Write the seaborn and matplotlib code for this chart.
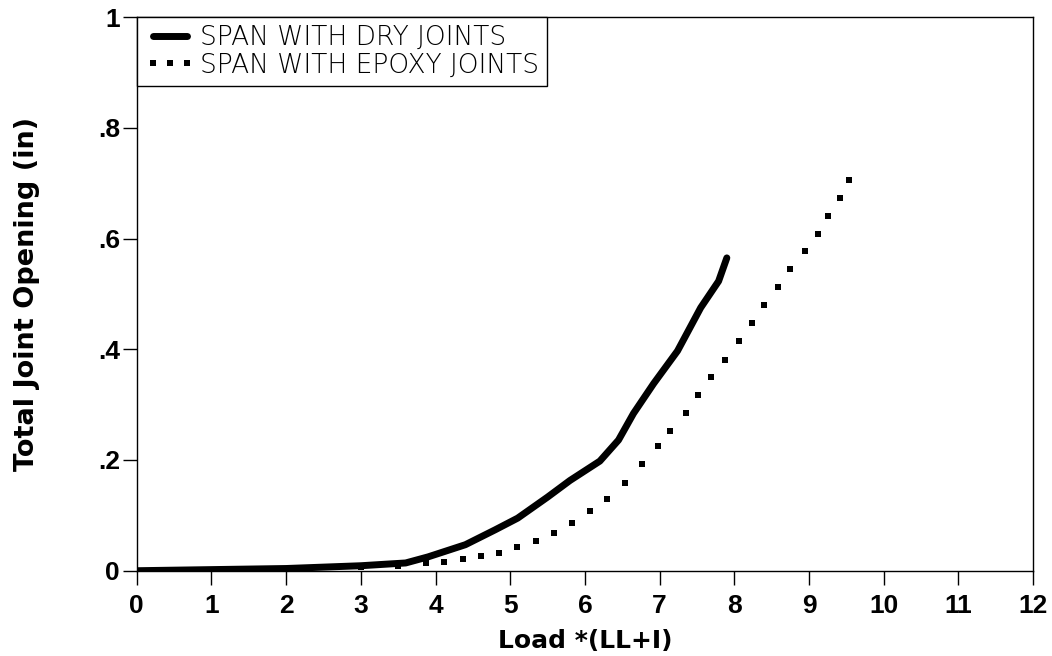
import matplotlib
matplotlib.use('Agg')
import matplotlib.pyplot as plt
import seaborn as sns
import pandas as pd

# values
dry_load = [0, 1.0, 2.0, 2.6, 3.0, 3.6, 3.9, 4.4, 4.8, 5.1, 5.5, 5.8, 6.2,
            6.45, 6.65, 6.92, 7.24, 7.55, 7.79, 7.9]
dry_open = [0, 0.002, 0.004, 0.007, 0.009, 0.014, 0.025, 0.047, 0.074, 0.095,
            0.133, 0.163, 0.198, 0.236, 0.284, 0.338, 0.397, 0.475, 0.523, 0.565]

# epoxy curve: one value per printed dot
epoxy_load = [0, 1.0, 2.0, 3.0, 3.5, 3.87, 4.12, 4.37, 4.61, 4.85, 5.09, 5.35,
              5.59, 5.83, 6.07, 6.30, 6.54, 6.77, 6.98, 7.14, 7.35, 7.52, 7.69,
              7.88, 8.06, 8.24, 8.40, 8.58, 8.75, 8.94, 9.12, 9.26, 9.41, 9.53]
epoxy_open = [0, 0.001, 0.003, 0.006, 0.009, 0.014, 0.016, 0.022, 0.027, 0.032,
              0.043, 0.054, 0.068, 0.086, 0.108, 0.129, 0.158, 0.192, 0.225,
              0.252, 0.284, 0.317, 0.349, 0.381, 0.415, 0.448, 0.480, 0.513,
              0.545, 0.577, 0.608, 0.640, 0.673, 0.705]

x_ticks = list(range(0, 13))
y_ticks = [0, 0.2, 0.4, 0.6, 0.8, 1.0]
y_tick_labels = ['0', '.2', '.4', '.6', '.8', '1']

labels = ['SPAN WITH DRY JOINTS', 'SPAN WITH EPOXY JOINTS']

dry = pd.DataFrame({'load': dry_load, 'opening': dry_open})
epoxy = pd.DataFrame({'load': epoxy_load, 'opening': epoxy_open})

sns.set_style('ticks')
plt.rcParams['font.family'] = ['Liberation Sans', 'DejaVu Sans']

fig, ax = plt.subplots(figsize=(10.52, 6.56), dpi=100)
fig.subplots_adjust(left=0.130, right=0.982, top=0.974, bottom=0.130)

sns.lineplot(data=dry, x='load', y='opening', ax=ax, color='black', lw=5.0,
             sort=False, estimator=None, label=labels[0], zorder=3)
sns.lineplot(data=epoxy, x='load', y='opening', ax=ax, color='black',
             linestyle='', marker='s', markersize=3.8, markeredgewidth=0,
             sort=False, estimator=None, label=labels[1], zorder=2)

ax.set_xlim(0, 12)
ax.set_ylim(0, 1)
ax.set_xticks(x_ticks)
ax.set_xticklabels([str(t) for t in x_ticks])
ax.set_yticks(y_ticks)
ax.set_yticklabels(y_tick_labels)
ax.tick_params(axis='both', direction='out', length=10, width=1.0, colors='black',
               labelsize=19)
for lab in ax.get_xticklabels() + ax.get_yticklabels():
    lab.set_fontweight('bold')
ax.tick_params(axis='x', pad=7)
ax.tick_params(axis='y', pad=2)

for s in ax.spines.values():
    s.set_color('black')
    s.set_linewidth(1.0)
    s.set_visible(True)

ax.set_xlabel('Load *(LL+I)', fontsize=18, fontweight='bold', color='black',
              family=['DejaVu Sans'], labelpad=8)
ax.set_ylabel('Total Joint Opening (in)', fontsize=19.5, fontweight='bold',
              color='black', family=['DejaVu Sans'], labelpad=42)

leg = ax.legend(loc='upper left', frameon=True, fancybox=False, framealpha=1,
                edgecolor='black', borderaxespad=0, handlelength=1.9,
                handletextpad=0.2, borderpad=0.3, labelspacing=0.1, numpoints=3,
                prop={'family': ['DejaVu Sans'], 'weight': 'light', 'size': 19})
leg.get_frame().set_linewidth(1.0)
for t in leg.get_texts():
    t.set_color('black')

fig.savefig('out.png', dpi=100, facecolor='white')
